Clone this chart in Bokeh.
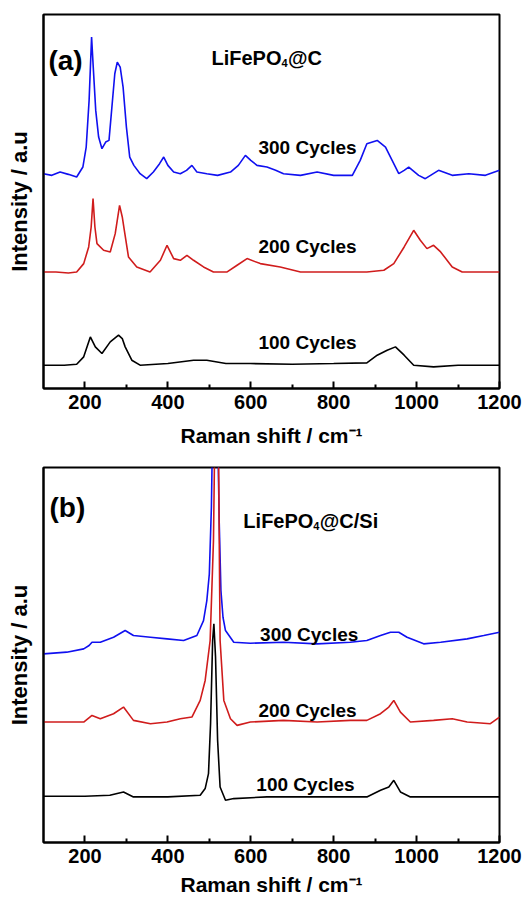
from bokeh.plotting import figure
from bokeh.layouts import column
from bokeh.models import FixedTicker, Range1d
from bokeh.core.properties import value
from bokeh.embed import file_html
from bokeh.resources import INLINE

FONT = "Liberation Sans"
BLUE = "#1010f0"
RED = "#d01c1c"
BLACK = "#000000"

# ---------------- Panel (a): LiFePO4@C ----------------
a300_x = [100, 120, 140, 160, 180, 195, 203, 210, 216, 220, 226, 233, 241, 250, 258, 265, 272, 278,
          285, 292, 300, 308, 318, 333, 349, 365, 380, 390, 400, 414, 430, 445, 458, 470, 494, 520,
          551, 570, 587, 600, 615, 639, 660, 679, 720, 760, 800, 845, 864, 880, 905, 925, 941, 957,
          970, 981, 1005, 1021, 1053, 1086, 1126, 1166, 1200]
a300_y = [64.5, 64.0, 65.0, 64.3, 63.5, 66.5, 72.5, 86.5, 105.5, 96.5, 83.5, 75.5, 72.0, 74.0, 74.5,
          84.5, 94.5, 98.0, 96.5, 90.5, 78.5, 69.5, 67.0, 64.5, 63.0, 65.0, 67.5, 69.5, 67.0, 65.0,
          64.5, 65.5, 67.0, 65.0, 64.5, 64.0, 65.0, 67.0, 70.0, 68.5, 67.0, 66.5, 65.5, 64.5, 64.0,
          65.0, 64.0, 64.0, 68.5, 73.5, 74.5, 72.5, 68.5, 64.5, 65.5, 66.5, 64.0, 63.0, 65.5, 64.0,
          64.5, 64.0, 65.5]

a200_x = [100, 130, 160, 180, 197, 209, 215, 219.5, 224, 229, 245, 261, 273, 283.5, 290, 295, 305,
          325, 357, 382, 398, 414, 430, 446, 462, 486, 510, 543, 567, 591, 623, 671, 720, 800, 880,
          921, 945, 970, 993, 1009, 1025, 1041, 1058, 1086, 1110, 1150, 1200]
a200_y = [35.0, 35.0, 34.7, 35.0, 37.5, 42.5, 48.5, 57.0, 48.5, 43.5, 41.5, 41.0, 46.5, 55.0, 51.5,
          47.5, 39.5, 36.5, 35.0, 38.5, 43.0, 39.0, 38.5, 40.0, 38.5, 36.5, 35.0, 35.0, 37.0, 39.0,
          37.5, 36.5, 35.0, 35.0, 35.0, 35.5, 37.5, 42.5, 47.5, 44.5, 42.0, 43.0, 41.0, 36.5, 35.0,
          35.0, 35.0]

a100_x = [100, 150, 180, 197, 213, 225, 241, 261, 281, 290, 297, 313, 333, 400, 462, 494, 540, 599,
          700, 800, 880, 905, 929, 949, 970, 993, 1041, 1100, 1150, 1200]
a100_y = [7.0, 7.0, 7.3, 9.5, 15.5, 12.5, 10.5, 14.0, 16.0, 15.0, 12.5, 8.5, 7.0, 7.5, 8.5, 8.5, 7.5,
          7.5, 7.3, 7.5, 7.7, 10.0, 11.5, 12.5, 10.0, 7.0, 6.5, 7.0, 7.0, 7.0]

# ---------------- Panel (b): LiFePO4@C/Si ----------------
b300_x = [100, 156, 197, 210, 217, 237, 269, 297, 317, 358, 398, 438, 470, 486, 494, 500, 505, 508,
          514, 520, 524, 528, 533, 539, 559, 599, 679, 760, 840, 880, 913, 937, 957, 977, 1017, 1058,
          1122, 1162, 1200]
b300_y = [56.7, 57.2, 58.2, 59.2, 60.2, 60.2, 61.7, 63.7, 62.2, 61.7, 61.2, 60.7, 62.2, 66.7, 72.7,
          80.7, 100.7, 125.0, 170.0, 125.0, 95.7, 75.7, 67.7, 63.7, 60.2, 59.9, 60.2, 59.7, 60.2,
          60.7, 62.2, 63.2, 63.2, 61.7, 59.7, 60.2, 61.2, 62.2, 63.2]

b200_x = [100, 156, 197, 217, 237, 269, 293, 317, 358, 398, 430, 458, 478, 490, 502, 510, 514, 518,
          522, 526, 535, 551, 567, 599, 679, 760, 840, 880, 913, 933, 945, 961, 985, 1041, 1086,
          1122, 1178, 1200]
b200_y = [36.2, 36.2, 36.2, 38.2, 37.2, 38.7, 40.7, 36.7, 35.7, 36.2, 37.2, 37.7, 42.7, 48.7, 60.7,
          90.7, 130.0, 160.0, 120.0, 60.7, 42.7, 37.2, 35.2, 36.2, 36.7, 36.2, 36.7, 36.7, 38.7,
          40.7, 42.7, 39.2, 36.2, 36.7, 37.2, 36.2, 35.7, 37.7]

b100_x = [100, 200, 260, 293, 317, 400, 478, 490, 498, 503, 508, 511, 515, 520, 526, 539, 559, 639,
          880, 913, 933, 945, 961, 985, 1100, 1200]
b100_y = [13.9, 13.9, 14.2, 15.2, 13.7, 13.7, 14.2, 16.2, 20.7, 35.7, 60.7, 65.7, 55.7, 30.7, 16.7,
          12.7, 13.2, 13.7, 13.7, 15.7, 16.7, 18.7, 15.2, 13.7, 13.7, 13.7]

x_ticks = [200, 400, 600, 800, 1000, 1200]
x_minor = [300, 500, 700, 900, 1100]
cycle_labels = ["300 Cycles", "200 Cycles", "100 Cycles"]


def make_panel(series, y_max, tag, tag_pos, title_main, title_rest, title_pos, cyc_x, cyc_y,
               frame_h, top, bottom, title_standoff):
    p = figure(frame_width=456, frame_height=frame_h, output_backend="svg", toolbar_location=None,
               x_range=Range1d(100, 1200), y_range=Range1d(0, y_max),
               min_border_left=43, min_border_right=32, min_border_top=top, min_border_bottom=bottom)
    p.xgrid.visible = False
    p.ygrid.visible = False
    p.outline_line_color = "black"
    p.outline_line_width = 2
    p.outline_line_alpha = 1
    p.background_fill_color = "white"
    p.border_fill_color = "white"

    for xs, ys, c in series:
        p.line(xs, ys, line_color=c, line_width=1.6)

    xa = p.xaxis[0]
    xa.ticker = FixedTicker(ticks=x_ticks, minor_ticks=x_minor)
    xa.axis_line_width = 2
    xa.major_tick_line_width = 2
    xa.minor_tick_line_width = 2
    xa.major_tick_in = 7
    xa.major_tick_out = 0
    xa.minor_tick_in = 4
    xa.minor_tick_out = 0
    xa.major_label_text_font = FONT
    xa.major_label_text_font_style = "bold"
    xa.major_label_text_font_size = "20px"
    xa.major_label_text_color = "black"
    xa.major_label_standoff = 6
    xa.axis_label = "Raman shift / cm\u207b\u00b9"
    xa.axis_label_text_font = FONT
    xa.axis_label_text_font_style = "bold"
    xa.axis_label_text_font_size = "21px"
    xa.axis_label_text_color = "black"
    xa.axis_label_standoff = title_standoff

    ya = p.yaxis[0]
    ya.ticker = FixedTicker(ticks=[])
    ya.axis_line_width = 2
    ya.major_tick_out = 0
    ya.major_tick_in = 0
    ya.minor_tick_out = 0
    ya.minor_tick_in = 0
    ya.major_label_standoff = 0
    ya.axis_label = "Intensity / a.u"
    ya.axis_label_text_font = FONT
    ya.axis_label_text_font_style = "bold"
    ya.axis_label_text_font_size = "22px"
    ya.axis_label_text_color = "black"
    ya.axis_label_standoff = 12

    # panel tag
    p.text(x=[tag_pos[0]], y=[tag_pos[1]], text=[tag], text_font=value(FONT),
           text_font_style="bold", text_font_size="28px", text_align="left",
           text_baseline="alphabetic", text_color="black")
    # sample name with subscript 4
    tx, ty = title_pos
    p.text(x=[tx], y=[ty], text=[title_main], text_font=value(FONT), text_font_style="bold",
           text_font_size="20px", text_align="right", text_baseline="alphabetic", text_color="black")
    p.text(x=[tx], y=[ty], text=["4"], text_font=value(FONT), text_font_style="bold",
           text_font_size="11px", text_align="left", text_baseline="alphabetic", text_color="black",
           x_offset=0, y_offset=5)
    p.text(x=[tx], y=[ty], text=[title_rest], text_font=value(FONT), text_font_style="bold",
           text_font_size="20px", text_align="left", text_baseline="alphabetic", text_color="black",
           x_offset=6.5)
    # cycle labels
    p.text(x=cyc_x, y=cyc_y, text=cycle_labels, text_font=value(FONT), text_font_style="bold",
           text_font_size="19px", text_align="center", text_baseline="alphabetic", text_color="black")
    return p


pa = make_panel([(a300_x, a300_y, BLUE), (a200_x, a200_y, RED), (a100_x, a100_y, BLACK)],
                112.3, "(a)", (112, 98.6), "LiFePO", "@C", (674, 99.3),
                [737, 737, 737], [72.3, 42.6, 13.9], 374, 14, 63, 12)
pb = make_panel([(b300_x, b300_y, BLUE), (b200_x, b200_y, RED), (b100_x, b100_y, BLACK)],
                112.7, "(b)", (114.5, 100.6), "LiFePO", "@C/Si", (751, 96.6),
                [741, 737, 732], [62.6, 39.6, 17.4], 375, 16, 55, 7)

layout = column(pa, pb, spacing=0)
open("out.html", "w").write(file_html(layout, INLINE))
